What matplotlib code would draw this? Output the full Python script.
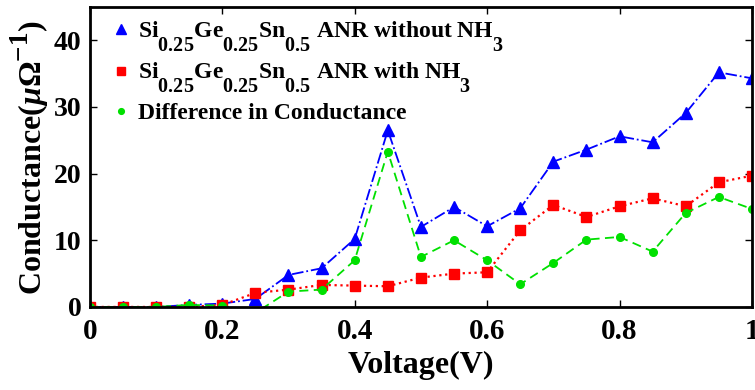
import matplotlib
matplotlib.use("Agg")
import matplotlib.pyplot as plt
import matplotlib._mathtext as mathtext_impl

# conductance vs bias voltage for the Si0.25Ge0.25Sn0.5 armchair nanoribbon
voltage = [0.0, 0.05, 0.1, 0.15, 0.2, 0.25, 0.3, 0.35, 0.4, 0.45, 0.5,
           0.55, 0.6, 0.65, 0.7, 0.75, 0.8, 0.85, 0.9, 0.95, 1.0]
g_without = [0.0, 0.0, 0.0, 0.3, 0.5, 1.2, 4.8, 5.8, 10.2, 26.5, 12.0,
             15.0, 12.1, 14.8, 21.8, 23.6, 25.6, 24.7, 29.1, 35.2, 34.3]
g_with = [0.0, 0.0, 0.0, 0.0, 0.3, 2.1, 2.6, 3.3, 3.2, 3.1, 4.4,
          5.0, 5.2, 11.5, 15.3, 13.5, 15.1, 16.3, 15.1, 18.7, 19.7]
g_diff = [0.0, 0.0, 0.0, 0.3, 0.2, -0.9, 2.3, 2.6, 7.0, 23.3, 7.5,
          10.0, 7.0, 3.4, 6.6, 10.1, 10.5, 8.3, 14.1, 16.5, 14.7]

labels = [
    r"Si$_{0.25}$Ge$_{0.25}$Sn$_{0.5}$ ANR without NH$_3$",
    r"Si$_{0.25}$Ge$_{0.25}$Sn$_{0.5}$ ANR with NH$_3$",
    "Difference in Conductance",
]

# larger, lower sub/superscripts (TeX-interpreter look)
mathtext_impl.SHRINK_FACTOR = 0.85
mathtext_impl.FontConstantsBase.sub1 = 1.3
mathtext_impl.FontConstantsBase.sup1 = 0.9

plt.rcParams["font.family"] = ["Liberation Serif", "DejaVu Serif"]
plt.rcParams["font.weight"] = "bold"
plt.rcParams["mathtext.fontset"] = "custom"
plt.rcParams["mathtext.rm"] = "Liberation Serif:bold"
plt.rcParams["mathtext.bf"] = "Liberation Serif:bold"
plt.rcParams["mathtext.it"] = "Liberation Serif:italic:bold"

fig = plt.figure(figsize=(7.55, 3.9), dpi=100)
ax = fig.add_axes([0.119, 0.213, 0.877, 0.769])

ax.plot(voltage, g_without, color="blue", linestyle="-.", linewidth=1.3,
        marker="^", markersize=9, label=labels[0])
ax.plot(voltage, g_with, color="red", linestyle=":", linewidth=1.6,
        marker="s", markersize=7.5, label=labels[1])
ax.plot(voltage, g_diff, color="#00e000", linestyle="--", linewidth=1.3,
        dashes=(5, 3), marker="o", markersize=5.5, label=labels[2])

ax.set_xlim(0, 1)
ax.set_ylim(0, 45)
ax.set_xticks([0, 0.2, 0.4, 0.6, 0.8, 1.0])
ax.set_xticklabels(["0", "0.2", "0.4", "0.6", "0.8", "1"])
ax.set_yticks([0, 10, 20, 30, 40])

ax.tick_params(direction="in", top=True, right=True, length=5, width=1)
ax.tick_params(axis="x", labelsize=21, pad=8)
ax.tick_params(axis="y", labelsize=20, pad=6)
for s in ax.spines.values():
    s.set_linewidth(2)

ax.set_xlabel("Voltage(V)", fontsize=23, fontweight="bold", labelpad=4)
ax.set_ylabel(r"Conductance($\mu\Omega^{-1}$)", fontsize=23,
              fontweight="bold", labelpad=2)

leg = ax.legend(loc="upper left", bbox_to_anchor=(0, 1.03), frameon=False,
                markerscale=0.75, handlelength=0.8, handletextpad=0.3,
                labelspacing=0.3, borderaxespad=0.5, borderpad=0.42,
                prop={"weight": "bold", "size": 17})
for h in leg.legend_handles:
    h.set_linestyle("none")

fig.savefig("out.png", dpi=100)
